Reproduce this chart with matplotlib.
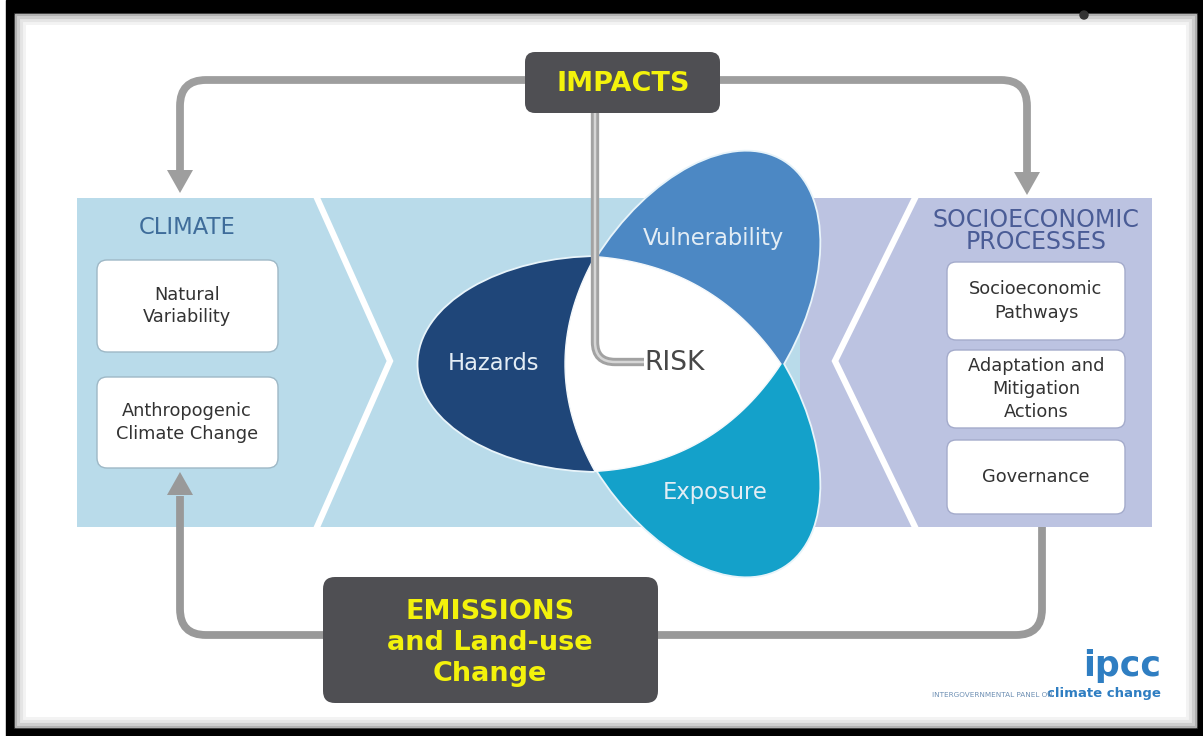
import matplotlib
matplotlib.use("Agg")
import matplotlib.pyplot as plt
from matplotlib.patches import Rectangle, FancyBboxPatch, Ellipse, Polygon, PathPatch
from matplotlib.path import Path
import numpy as np

# ---------------- content ----------------
top_label = "IMPACTS"
bottom_label = ["EMISSIONS", "and Land-use", "Change"]
left_title = "CLIMATE"
left_boxes = [["Natural", "Variability"], ["Anthropogenic", "Climate Change"]]
right_title = ["SOCIOECONOMIC", "PROCESSES"]
right_boxes = [["Socioeconomic", "Pathways"], ["Adaptation and", "Mitigation", "Actions"], ["Governance"]]
petals = ["Hazards", "Vulnerability", "Exposure"]
petal_colors = ["#1f4679", "#4c88c4", "#14a1ca"]
petal_angles = [180, 58, -58]          # screen direction of each petal
centre_label = "RISK"
logo_main = "ipcc"
logo_sub = ["INTERGOVERNMENTAL PANEL ON", "climate change"]

W, H = 1203, 736
fig = plt.figure(figsize=(W / 100, H / 100), dpi=100)
ax = fig.add_axes([0, 0, 1, 1])
ax.set_xlim(0, W)
ax.set_ylim(H, 0)
ax.axis("off")

GRAY = "#9e9e9e"
DARK = "#4f4f53"
YEL = "#f3f20c"
LBLUE = "#b9dbea"
LAV = "#bcc3e1"

# ---------------- frame ----------------
ax.add_patch(Rectangle((0, 0), W, H, color="white", zorder=0))
ax.add_patch(Rectangle((6, 0), W - 6, H, color="black", zorder=0.1))
ax.add_patch(Rectangle((15, 14), 1181, 713, color="white", zorder=0.2))
for i, a in enumerate([0.45, 0.28, 0.15, 0.07]):
    ax.add_patch(Rectangle((15 + i * 3, 14 + i * 3), 1181 - i * 6, 713 - i * 6,
                           fill=False, ec="#555555", lw=2.2, alpha=a, zorder=0.3))
ax.add_patch(Ellipse((1084, 15), 8, 8, color="#333333", zorder=0.3))

# ---------------- band ----------------
ax.add_patch(Rectangle((77, 198), 800 - 77, 329, color=LBLUE, lw=0, zorder=1))
ax.add_patch(Rectangle((800, 198), 1152 - 800, 329, color=LAV, lw=0, zorder=1))
ax.plot([317, 390, 317], [198, 361, 527], color="white", lw=4.5, zorder=1.5,
        solid_joinstyle="miter")
ax.plot([915, 835, 915], [198, 361, 527], color="white", lw=4.5, zorder=1.5,
        solid_joinstyle="miter")

# ---------------- helper: rounded polyline ----------------
def rounded(points, r):
    pts = [np.array(p, float) for p in points]
    verts = [pts[0]]
    codes = [Path.MOVETO]
    for i in range(1, len(pts) - 1):
        p0, p1, p2 = pts[i - 1], pts[i], pts[i + 1]
        d1 = (p1 - p0) / np.linalg.norm(p1 - p0)
        d2 = (p2 - p1) / np.linalg.norm(p2 - p1)
        verts += [p1 - d1 * r, p1, p1 + d2 * r]
        codes += [Path.LINETO, Path.CURVE3, Path.CURVE3]
    verts.append(pts[-1])
    codes.append(Path.LINETO)
    return Path(verts, codes)

def conn(points, r=26, color=GRAY, lw=5.6, z=2):
    ax.add_patch(PathPatch(rounded(points, r), fill=False, ec=color, lw=lw,
                           capstyle="butt", zorder=z))

def head(x, ytip, ybase, color=GRAY, z=2):
    ax.add_patch(Polygon([[x, ytip], [x - 13, ybase], [x + 13, ybase]],
                         closed=True, color=color, lw=0, zorder=z))

# arrows
conn([(528, 80), (180, 80), (180, 171)])
head(180, 193, 170)
conn([(720, 80), (1027, 80), (1027, 173)])
head(1027, 195, 172)
conn([(323, 635), (180, 635), (180, 496)], color="#999999")
head(180, 472, 495, color="#999999")
conn([(658, 635), (1042, 635), (1042, 527)], color="#999999")

# ---------------- petals ----------------
C = np.array([657.0, 364.0])
dist, a_semi, b_semi = 56.5, 183.0, 108.0
R_tri = 124.0

def sdir(deg):
    return np.array([np.cos(np.radians(deg)), -np.sin(np.radians(deg))])

sector_bounds = [(120, 240), (0, 120), (-120, 0)]
for ang, col, (s0, s1) in zip(petal_angles, petal_colors, sector_bounds):
    cen = C + dist * sdir(ang)
    e = Ellipse(cen, 2 * a_semi, 2 * b_semi, angle=-ang, fc=col, ec="#e8f4fa",
                lw=1.3, zorder=3)
    ax.add_patch(e)
    wedge = [C] + [C + 700 * sdir(t) for t in np.linspace(s0, s1, 7)]
    wp = Polygon(wedge, closed=True, fc="none", ec="none")
    ax.add_patch(wp)
    e.set_clip_path(wp)

# white central curved triangle
verts_tri = [C + R_tri * sdir(t) for t in (0, 120, 240)]
sag = [26, 30, 27]
outline = []
for k in range(3):
    p0 = verts_tri[k]
    p1 = verts_tri[(k + 1) % 3]
    mid = (p0 + p1) / 2
    nrm = mid - C
    nrm = nrm / np.linalg.norm(nrm)
    ctrl = mid + 2 * sag[k] * nrm
    for t in np.linspace(0, 1, 40)[:-1]:
        outline.append((1 - t) ** 2 * p0 + 2 * (1 - t) * t * ctrl + t ** 2 * p1)
ax.add_patch(Polygon(outline, closed=True, fc="white", ec="#f4f8fb", lw=1.0,
                     zorder=3.5))

petal_txt_pos = [(493, 363), (713, 238), (715, 493)]
for lab, (x, y) in zip(petals, petal_txt_pos):
    ax.text(x, y, lab, ha="center", va="center", fontsize=16.3, color="#e3edf5",
            zorder=5)

# IMPACTS -> RISK tube
conn([(595, 113), (595, 362), (644, 362)], r=20, color="#a2a2a2", lw=6, z=4)
conn([(595, 113), (595, 362), (644, 362)], r=20, color="#d6d6d6", lw=1.8, z=4.1)
ax.text(675, 363, centre_label, ha="center", va="center", fontsize=19,
        color="#474747", zorder=5)

# ---------------- dark boxes ----------------
ax.add_patch(FancyBboxPatch((525 + 10, 52 + 10), 195 - 20, 61 - 20,
                            boxstyle="round,pad=10", fc=DARK, ec="none", zorder=4))
ax.text(623, 84, top_label, ha="center", va="center", fontsize=19.5,
        fontweight="bold", color=YEL, zorder=5)
ax.add_patch(FancyBboxPatch((323 + 12, 577 + 12), 335 - 24, 126 - 24,
                            boxstyle="round,pad=12", fc=DARK, ec="none", zorder=4))
for k, line in enumerate(bottom_label):
    ax.text(490, 612 + 31 * k, line, ha="center", va="center", fontsize=19.5,
            fontweight="bold", color=YEL, zorder=5)

# ---------------- left panel ----------------
ax.text(187, 227, left_title, ha="center", va="center", fontsize=16.3,
        color="#3e6c9a", zorder=5)
left_box_y = [(260, 352), (377, 468)]
for lines, (y0, y1) in zip(left_boxes, left_box_y):
    ax.add_patch(FancyBboxPatch((97 + 10, y0 + 10), 181 - 20, (y1 - y0) - 20,
                                boxstyle="round,pad=10", fc="white",
                                ec="#9eb8c6", lw=1.0, zorder=4))
    yc = (y0 + y1) / 2
    n = len(lines)
    for k, line in enumerate(lines):
        ax.text(187, yc + (k - (n - 1) / 2) * 23, line, ha="center", va="center",
                fontsize=12.8, color="#333333", zorder=5)

# ---------------- right panel ----------------
for k, line in enumerate(right_title):
    ax.text(1036, 220 + 22 * k, line, ha="center", va="center", fontsize=17,
            color="#4a5c96", zorder=5)
right_box_y = [(262, 340), (350, 428), (440, 514)]
for lines, (y0, y1) in zip(right_boxes, right_box_y):
    ax.add_patch(FancyBboxPatch((947 + 9, y0 + 9), 178 - 18, (y1 - y0) - 18,
                                boxstyle="round,pad=9", fc="white",
                                ec="#a4abcb", lw=1.0, zorder=4))
    yc = (y0 + y1) / 2
    n = len(lines)
    for k, line in enumerate(lines):
        ax.text(1036, yc + (k - (n - 1) / 2) * 23, line, ha="center", va="center",
                fontsize=12.8, color="#333333", zorder=5)

# ---------------- logo ----------------
ax.text(1161, 676, logo_main, ha="right", va="baseline", fontsize=25,
        color="#2f7ec2", fontweight="bold", zorder=5)
ax.text(1161, 694, logo_sub[1], ha="right", va="center", fontsize=9.5,
        fontweight="bold", color="#2f7ec2", zorder=5)
ax.text(1053, 695, logo_sub[0], ha="right", va="center", fontsize=5.2,
        color="#6d8fb3", zorder=5)

fig.savefig("out.png", dpi=100)
